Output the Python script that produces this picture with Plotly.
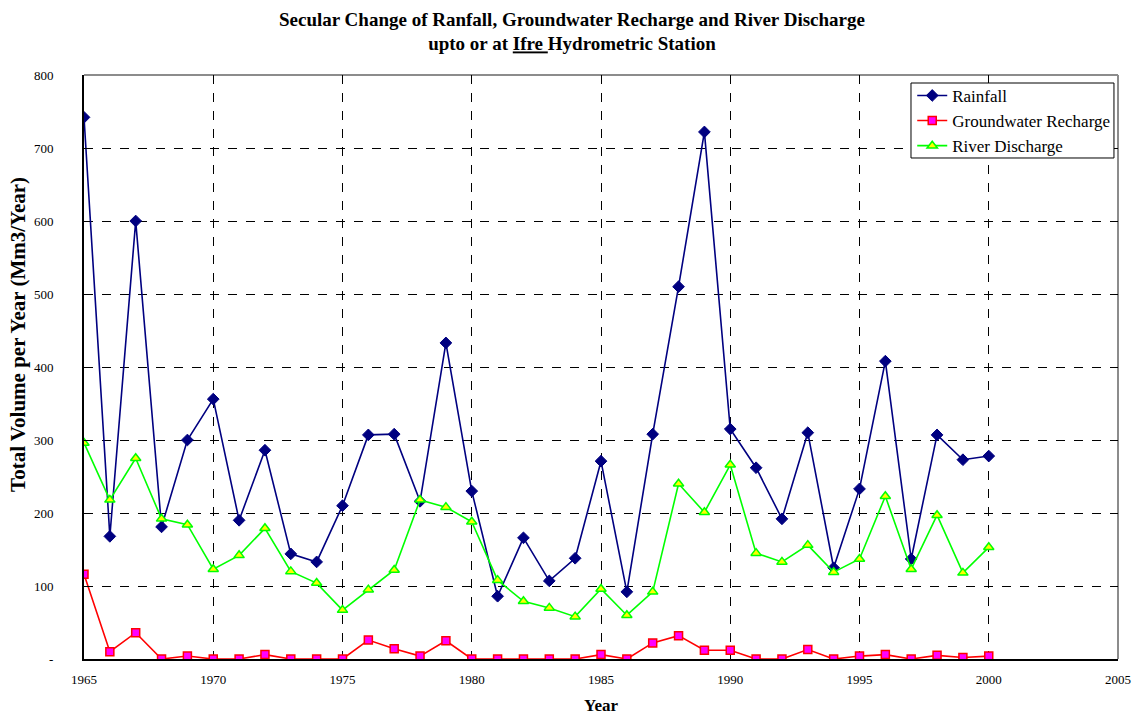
import plotly.graph_objects as go

years = list(range(1965, 2001))
rainfall = [742, 168, 600, 181, 300, 356, 190, 286, 144, 133,
            210, 307, 308, 216, 433, 230, 86, 166, 107, 138,
            271, 92, 308, 510, 722, 315, 262, 192, 310, 125,
            233, 408, 137, 307, 273, 278]
recharge = [116, 10, 36, 0, 4, 0, 0, 6, 0, 0,
            0, 26, 14, 4, 25, 0, 0, 0, 0, 0,
            6, 0, 22, 32, 12, 12, 0, 0, 13, 0,
            4, 6, 0, 5, 2, 4]
discharge = [296, 218, 275, 192, 184, 123, 142, 179, 120, 104,
             67, 95, 122, 218, 208, 188, 108, 79, 70, 58,
             96, 60, 92, 240, 201, 266, 145, 133, 156, 119,
             137, 223, 123, 197, 118, 153]

y_ticks = [0, 100, 200, 300, 400, 500, 600, 700, 800]
y_ticktext = ["-", "100", "200", "300", "400", "500", "600", "700", "800"]
x_ticks = [1965, 1970, 1975, 1980, 1985, 1990, 1995, 2000, 2005]

serif = "Liberation Serif, Times New Roman, serif"

fig = go.Figure()
fig.add_trace(go.Scatter(
    x=years, y=rainfall, name="Rainfall", mode="lines+markers",
    line=dict(color="#000080", width=1.6),
    marker=dict(symbol="diamond", size=9, color="#000080",
                line=dict(color="#000080", width=1)),
))
fig.add_trace(go.Scatter(
    x=years, y=recharge, name="Groundwater Recharge", mode="lines+markers",
    line=dict(color="#FF0000", width=1.6),
    marker=dict(symbol="square", size=8, color="#FF00FF",
                line=dict(color="#FF0000", width=1.5)),
))
fig.add_trace(go.Scatter(
    x=years, y=discharge, name="River Discharge", mode="lines+markers",
    line=dict(color="#00FF00", width=1.6),
    marker=dict(symbol="triangle-up", size=9, color="#FFFF00",
                line=dict(color="#00FF00", width=1.5)),
))

# gray top/right frame
fig.add_shape(type="line", xref="paper", yref="paper", x0=0, x1=1, y0=1, y1=1,
              line=dict(color="#8c8c8c", width=2), layer="below")
fig.add_shape(type="line", xref="paper", yref="paper", x0=1, x1=1, y0=0, y1=1,
              line=dict(color="#8c8c8c", width=2), layer="below")
# legend box
fig.add_shape(type="rect", xref="paper", yref="paper",
              x0=0.7998, x1=0.9961, y0=0.8579, y1=0.9863,
              fillcolor="white", line=dict(color="black", width=1), layer="above")

# y-axis title
fig.add_annotation(
    text="<b>Total Volume per Year (Mm3/Year)</b>", textangle=-90,
    xref="paper", yref="paper", x=-0.0638, y=0.555,
    xanchor="center", yanchor="middle", showarrow=False,
    font=dict(family=serif, size=21, color="black"),
)

fig.update_layout(
    width=1136, height=715,
    margin=dict(l=84, r=18, t=75, b=56, autoexpand=False),
    paper_bgcolor="white", plot_bgcolor="white",
    font=dict(family=serif, color="black", size=13),
    title=dict(
        text="<b>Secular Change of Ranfall, Groundwater Recharge and River Discharge<br>upto or at <u>Ifre </u>Hydrometric Station</b>",
        x=0.5035, xanchor="center", y=0.964, yanchor="top",
        font=dict(family=serif, size=19, color="black"),
    ),
    xaxis=dict(
        range=[1965, 2005], tickvals=x_ticks, showgrid=True,
        gridcolor="black", griddash="dash", gridwidth=1,
        showline=True, linecolor="black", linewidth=2,
        ticks="", ticklabelstandoff=7, zeroline=False, automargin=False,
        tickfont=dict(family=serif, size=13),
        title=dict(text="<b>Year</b>", font=dict(family=serif, size=17), standoff=14),
    ),
    yaxis=dict(
        range=[0, 800], tickvals=y_ticks, ticktext=y_ticktext, showgrid=True,
        gridcolor="black", griddash="dash", gridwidth=1,
        showline=True, linecolor="black", linewidth=2,
        ticks="inside", ticklen=6, tickcolor="black",
        ticklabelstandoff=26, zeroline=False, automargin=False,
        tickfont=dict(family=serif, size=13),
    ),
    legend=dict(
        x=0.801, xanchor="left", y=0.995, yanchor="top",
        bgcolor="rgba(0,0,0,0)", borderwidth=0,
        font=dict(family=serif, size=17, color="black"),
        itemwidth=30, tracegroupgap=0,
    ),
    showlegend=True,
)

fig.write_html("out.html", config={"displayModeBar": False},
               post_script="document.body.style.margin='0';")
